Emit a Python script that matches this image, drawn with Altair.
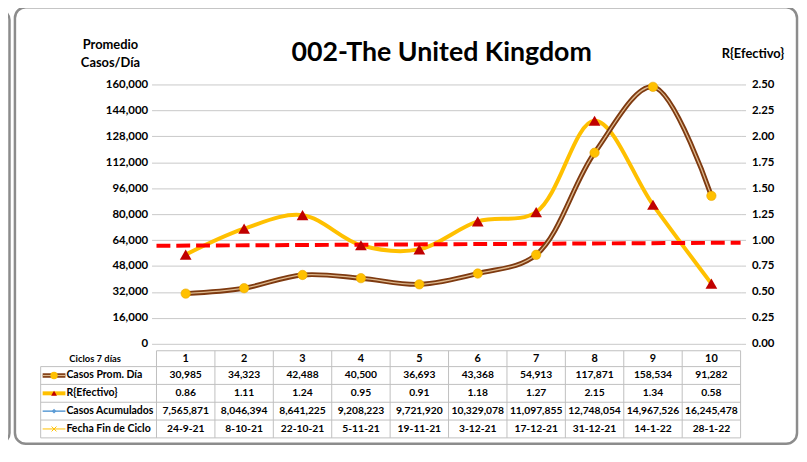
import altair as alt
import pandas as pd

# ---------------- data ----------------
ciclos = [1, 2, 3, 4, 5, 6, 7, 8, 9, 10]
casos_prom = [30985, 34323, 42488, 40500, 36693, 43368, 54913, 117871, 158534, 91282]
r_efectivo = [0.86, 1.11, 1.24, 0.95, 0.91, 1.18, 1.27, 2.15, 1.34, 0.58]
casos_acum = [7565871, 8046394, 8641225, 9208223, 9721920, 10329078,
              11097855, 12748054, 14967526, 16245478]
fecha_fin = ["24-9-21", "8-10-21", "22-10-21", "5-11-21", "19-11-21",
             "3-12-21", "17-12-21", "31-12-21", "14-1-22", "28-1-22"]
umbral_x = [0.5, 10.5]
umbral_r = [0.945, 0.975]
left_ticks = [0, 16000, 32000, 48000, 64000, 80000, 96000, 112000, 128000, 144000, 160000]
right_ticks = [0, 0.25, 0.5, 0.75, 1.0, 1.25, 1.5, 1.75, 2.0, 2.25, 2.5]
titulo = "002-The United Kingdom"
header_label = "Ciclos 7 días"
row_labels = ["Casos Prom. Día", "R{Efectivo}", "Casos Acumulados", "Fecha Fin de Ciclo"]

FONT = "Lato"
W, H = 590, 262

df = pd.DataFrame({"c": ciclos, "casos": casos_prom, "r": r_efectivo,
                   "acum": casos_acum, "fecha": fecha_fin})
bounds = [c - 0.5 for c in ciclos] + [ciclos[-1] + 0.5]
bdf = pd.DataFrame({"b": bounds})
udf = pd.DataFrame({"c": umbral_x, "r": umbral_r})
one = pd.DataFrame({"k": [0]})

xscale = alt.Scale(domain=[0.5, 10.5], nice=False, zero=False)
yl = alt.Scale(domain=[0, 160000], nice=False, zero=True)
yr = alt.Scale(domain=[0, 2.5], nice=False, zero=True)

def X(field="c:Q", axis=None):
    return alt.X(field, scale=xscale, axis=axis)

x_axis = alt.Axis(values=bounds, grid=True, gridColor="#D6DBE2", gridWidth=1,
                  labels=False, ticks=False, domain=True, domainColor="#A9C8E8",
                  domainWidth=1.2, title=None)

left_axis = alt.Axis(orient="left", values=left_ticks,
                     labelExpr="format(datum.value, ',')", grid=True,
                     gridColor="#C8C8C8", tickColor="#C8C8C8", tickSize=5,
                     labelPadding=4, domain=False,
                     title=["Promedio", "Casos/Día"], titleAngle=0, titleX=-47,
                     titleY=-46, titleAlign="center", titleBaseline="top",
                     titleLineHeight=18)
right_axis = alt.Axis(orient="right", values=right_ticks,
                      labelExpr="format(datum.value, '.2f')", grid=False,
                      tickColor="#C8C8C8", tickSize=5, labelPadding=6, domain=False,
                      title="R{Efectivo}", titleAngle=0, titleX=12, titleY=-31,
                      titleAlign="center", titleBaseline="middle")

# ---------------- plot marks ----------------
r_line = alt.Chart(df).mark_line(interpolate="catmull-rom", color="#FFC000",
                                 strokeWidth=4).encode(
    x=X(axis=x_axis), y=alt.Y("r:Q", scale=yr, axis=right_axis))
umbral = alt.Chart(udf).mark_line(color="#FF0000", strokeWidth=4,
                                  strokeDash=[14, 6]).encode(
    x=X(), y=alt.Y("r:Q", scale=yr, axis=None))
casos_outer = alt.Chart(df).mark_line(interpolate="catmull-rom", color="#7E3A10",
                                      strokeWidth=5).encode(
    x=X(), y=alt.Y("casos:Q", scale=yl, axis=left_axis))
casos_inner = alt.Chart(df).mark_line(interpolate="catmull-rom", color="#DDB98F",
                                      strokeWidth=1.3).encode(
    x=X(), y=alt.Y("casos:Q", scale=yl, axis=None))
casos_pts = alt.Chart(df).mark_circle(size=90, color="#FFC000", opacity=1,
                                      stroke="#E9A800", strokeWidth=0.6).encode(
    x=X(), y=alt.Y("casos:Q", scale=yl, axis=None))
r_pts = alt.Chart(df).mark_point(shape="triangle-up", filled=True, size=140,
                                 color="#C00000", opacity=1).encode(
    x=X(), y=alt.Y("r:Q", scale=yr, axis=None))

# ---------------- frame & title ----------------
frame = alt.Chart(one).mark_rect(fillOpacity=0, stroke="#8C8C8C", strokeWidth=2.5,
                                 cornerRadius=11).encode(
    x=alt.value(-143), x2=alt.value(647), y=alt.value(-78), y2=alt.value(363))
frame_left = alt.Chart(one).mark_rect(fillOpacity=0, stroke="#8C8C8C", strokeWidth=2.5,
                                      cornerRadius=11).encode(
    x=alt.value(-220), x2=alt.value(-148.5), y=alt.value(-76), y2=alt.value(363))
title_mark = alt.Chart(one).mark_text(font=FONT, fontSize=27, fontWeight="bold",
                                      color="#000000", align="center",
                                      baseline="middle").encode(
    x=alt.value(288), y=alt.value(-32), text=alt.value(titulo))

# ---------------- data table ----------------
LINE = "#BFBFBF"
row_y = [294, 312, 330, 348]
table_layers = []
table_layers.append(alt.Chart(bdf).mark_rule(color=LINE, strokeWidth=1).encode(
    x=X("b:Q"), y=alt.value(269), y2=alt.value(357)))
table_layers.append(alt.Chart(one).mark_rule(color=LINE, strokeWidth=1).encode(
    x=alt.value(0), x2=alt.value(W), y=alt.value(269)))
for yy in [285, 303, 321, 339, 357]:
    table_layers.append(alt.Chart(one).mark_rule(color=LINE, strokeWidth=1).encode(
        x=alt.value(-117), x2=alt.value(W), y=alt.value(yy)))
table_layers.append(alt.Chart(one).mark_rule(color=LINE, strokeWidth=1).encode(
    x=alt.value(-117), y=alt.value(285), y2=alt.value(357)))

txt = dict(font=FONT, fontSize=10.4, fontWeight="bold", color="#000000",
           align="center", baseline="middle")
table_layers.append(alt.Chart(df).mark_text(**dict(txt, fontSize=11)).encode(
    x=X(), y=alt.value(277), text=alt.Text("c:Q")))
table_layers.append(alt.Chart(df).mark_text(**txt).encode(
    x=X(), y=alt.value(row_y[0]), text=alt.Text("casos:Q", format=",")))
table_layers.append(alt.Chart(df).mark_text(**txt).encode(
    x=X(), y=alt.value(row_y[1]), text=alt.Text("r:Q", format=".2f")))
table_layers.append(alt.Chart(df).mark_text(**txt).encode(
    x=X(), y=alt.value(row_y[2]), text=alt.Text("acum:Q", format=",")))
table_layers.append(alt.Chart(df).mark_text(**txt).encode(
    x=X(), y=alt.value(row_y[3]), text=alt.Text("fecha:N")))

table_layers.append(alt.Chart(one).mark_text(font=FONT, fontSize=9.5, fontWeight="bold",
                                             color="#000000", align="center",
                                             baseline="middle").encode(
    x=alt.value(-62), y=alt.value(277), text=alt.value(header_label)))
for lab, yy in zip(row_labels, row_y):
    table_layers.append(alt.Chart(one).mark_text(font=FONT, fontSize=10.6,
                                                 fontWeight="bold", color="#000000",
                                                 align="left", baseline="middle").encode(
        x=alt.value(-91), y=alt.value(yy), text=alt.value(lab)))

# legend keys
def hline(yy, color, w):
    return alt.Chart(one).mark_rule(color=color, strokeWidth=w).encode(
        x=alt.value(-115), x2=alt.value(-92), y=alt.value(yy))

def sym(yy, shape, color, size, filled=True, sw=1):
    return alt.Chart(one).mark_point(shape=shape, filled=filled, size=size, color=color,
                                     opacity=1, strokeWidth=sw).encode(
        x=alt.value(-103.5), y=alt.value(yy))

table_layers += [
    hline(row_y[0], "#7E3A10", 4.5), hline(row_y[0], "#DDB98F", 1.2),
    sym(row_y[0], "circle", "#FFC000", 55),
    hline(row_y[1], "#FFC000", 4), sym(row_y[1], "triangle-up", "#C00000", 35),
    hline(row_y[2], "#5B9BD5", 1.5), sym(row_y[2], "diamond", "#5B9BD5", 22),
    hline(row_y[3], "#FFC000", 1),
    sym(row_y[3], "M-1,-1L1,1M-1,1L1,-1", "#FFC000", 25, filled=False, sw=1),
]

chart = alt.layer(
    frame_left, frame, r_line, umbral, casos_outer, casos_inner, casos_pts, r_pts,
    title_mark, *table_layers
).resolve_scale(y="independent").properties(
    width=W, height=H, autosize=alt.AutoSizeParams(type="none"),
    padding={"left": 150, "top": 75, "right": 59, "bottom": 103},
    background="#FFFFFF"
).configure_view(strokeWidth=0).configure_axis(
    labelFont=FONT, labelFontSize=11.5, labelFontWeight="bold", labelColor="#000000",
    titleFont=FONT, titleFontSize=13, titleFontWeight="bold", titleColor="#000000"
)

chart.save("out.html", embed_options={"renderer": "svg", "actions": False})
